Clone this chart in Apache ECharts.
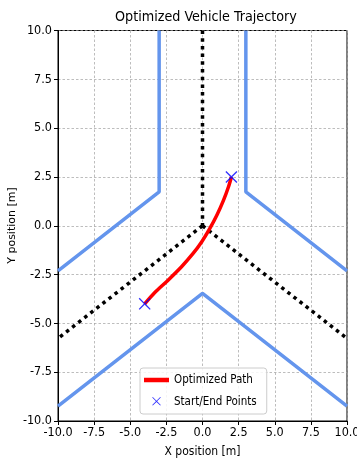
<!DOCTYPE html>
<html>
<head>
<meta charset="utf-8">
<script src="https://cdn.jsdelivr.net/npm/echarts@6/dist/echarts.min.js"></script>
<style>html,body{margin:0;padding:0;background:#fff}#c{width:357px;height:465px}</style>
</head>
<body>
<div id="c"></div>
<script>
// Data
var axisTicks = [-10, -7.5, -5, -2.5, 0, 2.5, 5, 7.5, 10];
var leftBoundary = [[-3, 10], [-3, 1.73], [-10, -2.31]];
var rightBoundary = [[3, 10], [3, 1.73], [10, -2.31]];
var lowerBoundary = [[-10, -9.24], [0, -3.46], [10, -9.24]];
var centerVertical = [[0, 10], [0, 0]];
var centerLeft = [[0, 0], [-10, -5.77]];
var centerRight = [[0, 0], [10, -5.77]];
var optimizedPath = [[-4, -4], [-3.3, -3.42], [-2.4, -2.8], [-1.45, -2.1], [-0.65, -1.42], [-0.05, -0.82], [0.5, -0.15], [1.0, 0.55], [1.45, 1.3], [1.8, 2.0], [2, 2.5]];
var startEndPoints = [[-4, -4], [2, 2.5]];

var FONT = '"Liberation Sans Narrow", "DejaVu Sans Condensed", "Noto Sans CJK JP", sans-serif';
var xPath = 'path://M0,8L8,0L50,42L92,0L100,8L58,50L100,92L92,100L50,58L8,100L0,92L42,50Z';
// legend icons: tiny corner specks fix the bounding box so the visible mark keeps its size
var legendX = 'path://M0,0h0.1v0.1h-0.1zM250,140h-0.1v-0.1h0.1zM82,26L88,20L125,57L162,20L168,26L131,63L168,100L162,106L125,69L88,106L82,100L119,63Z';
var legendLine = 'path://M0,0h0.1v0.1h-0.1zM250,140h-0.1v-0.1h0.1zM0,48h250v44h-250z';
var blue = '#6495ED';

function boundary(data) {
  return { type: 'line', data: data, symbol: 'none', silent: true,
    lineStyle: { color: blue, width: 3.5 }, z: 2 };
}
function center(data) {
  return { type: 'line', data: data, symbol: 'none', silent: true,
    lineStyle: { color: '#000', width: 3.5, type: [3.5, 4.2], cap: 'butt' }, z: 3 };
}

var chart = echarts.init(document.getElementById('c'), null, { renderer: 'canvas' });
var axisCommon = {
  type: 'value', min: -10, max: 10, interval: 2.5,
  axisLine: { show: true, onZero: false, lineStyle: { color: '#000', width: 1 } },
  axisTick: { show: true, inside: false, length: 4, lineStyle: { color: '#000', width: 1 } },
  axisLabel: { color: '#000', fontSize: 12.5, fontFamily: FONT, formatter: function (v) { return v.toFixed(1); } },
  splitLine: { show: true, lineStyle: { color: '#a0a0a0', width: 0.7, type: [2.5, 2] } },
  nameLocation: 'middle',
  nameTextStyle: { color: '#000', fontSize: 12, fontFamily: FONT }
};
chart.setOption({
  animation: false,
  backgroundColor: '#fff',
  title: { text: 'Optimized Vehicle Trajectory', left: 110, top: 5,
    textStyle: { fontSize: 14.2, fontWeight: 'normal', color: '#000', fontFamily: FONT } },
  grid: { left: 58, right: 10, top: 30.5, bottom: 44, show: true, borderColor: '#000', borderWidth: 1,
    backgroundColor: 'transparent', containLabel: false, outerBoundsMode: 'none' },
  xAxis: Object.assign({}, axisCommon, { name: 'X position [m]', nameGap: 25,
    axisLabel: Object.assign({}, axisCommon.axisLabel, { margin: 5 }) }),
  yAxis: Object.assign({}, axisCommon, { name: '',
    axisLabel: Object.assign({}, axisCommon.axisLabel, { margin: 6 }) }),
  graphic: [{
    type: 'text', x: 12, y: 225.5, rotation: Math.PI / 2,
    style: { text: 'Y position [m]', fill: '#000', fontSize: 11, fontFamily: '"DejaVu Sans", sans-serif',
      textAlign: 'center', textVerticalAlign: 'middle' }
  }],
  legend: {
    orient: 'vertical', left: 140, top: 368, padding: [5, 10, 5, 4], itemGap: 8,
    itemWidth: 25, itemHeight: 14,
    borderColor: '#ccc', borderWidth: 1, borderRadius: 3, backgroundColor: 'rgba(255,255,255,0.85)',
    textStyle: { fontSize: 11.5, color: '#000', fontFamily: FONT },
    data: [
      { name: 'Optimized Path', icon: legendLine },
      { name: 'Start/End Points', icon: legendX }
    ]
  },
  series: [
    boundary(leftBoundary), boundary(rightBoundary), boundary(lowerBoundary),
    center(centerVertical), center(centerLeft), center(centerRight),
    { name: 'Optimized Path', type: 'line', data: optimizedPath, smooth: 0.3, symbol: 'none', showSymbol: false,
      lineStyle: { color: '#ff0000', width: 3.5 }, itemStyle: { color: '#ff0000' }, z: 4 },
    { name: 'Start/End Points', type: 'scatter', data: startEndPoints, symbol: xPath, symbolSize: 12,
      itemStyle: { color: '#0000ff' }, z: 5 }
  ]
});
</script>
</body>
</html>
